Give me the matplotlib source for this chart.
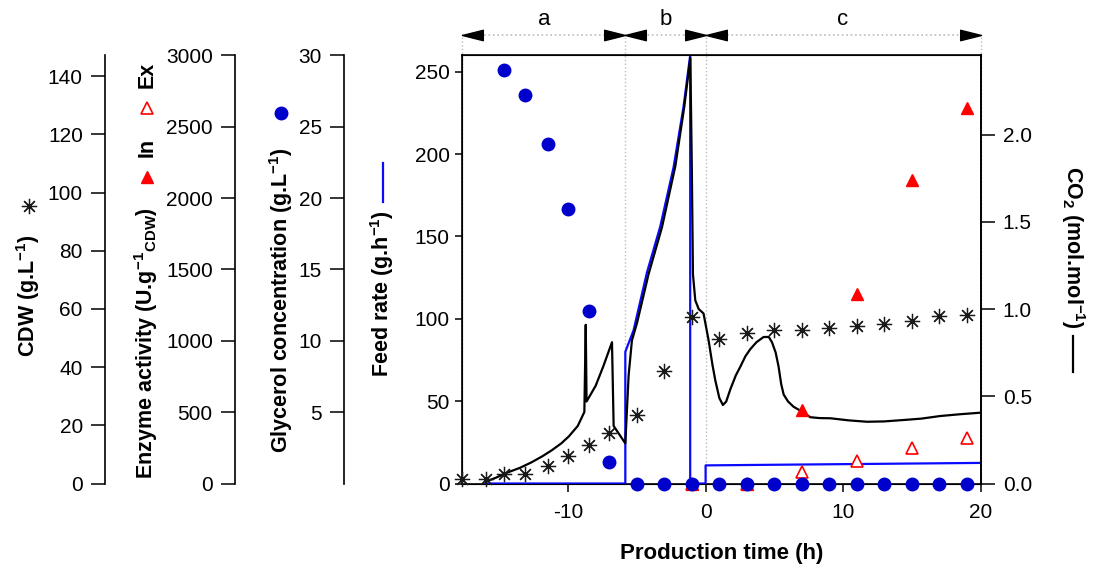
import numpy as np
import matplotlib.pyplot as plt
from matplotlib.path import Path

plt.rcParams['font.family'] = ['Liberation Sans', 'DejaVu Sans']
plt.rcParams['mathtext.default'] = 'regular'
plt.rcParams['axes.unicode_minus'] = False
plt.rcParams['font.size'] = 15

# glycerol (g/L)
t_gly = [-14.67, -13.17, -11.5, -10.0, -8.5, -7.0, -5, -3, -1, 1, 3, 5, 7, 9, 11, 13, 15, 17, 19]
gly = [29.0, 27.2, 23.8, 19.2, 12.1, 1.5, 0, 0, 0, 0, 0, 0, 0, 0, 0, 0, 0, 0, 0]

# cell dry weight (g/L)
t_cdw = [-17.7, -16.0, -14.66, -13.15, -11.5, -10.0, -8.5, -7.0, -5.0, -3.0, -1.0, 1, 3, 5, 7, 9, 11, 13, 15, 17, 19]
cdw = [1.4, 1.4, 3.1, 3.3, 6.0, 9.5, 13.2, 17.4, 23.7, 38.6, 57.1, 49.8, 51.9, 52.7, 52.7, 53.3, 54.3, 54.9, 55.9, 57.5, 58.0]

# enzyme activity (U/g CDW)
t_enz = [-1, 3, 7, 11, 15, 19]
enz_in = [0, 0, 513, 1330, 2128, 2628]
enz_ex = [0, 0, 82, 156, 250, 320]

# feed rate (g/h)
t_feed = [-16.0, -5.84, -5.84, -5.24, -4.27, -3.3, -2.33, -1.6, -1.12, -1.12, 0.0, 0.0, 20.0]
feed = [0, 0, 80, 93, 128, 156, 192, 229, 260, 0, 0, 11, 12.5]

# CO2 (mol/mol)
t_co2 = [-16.0, -15.2, -14.45, -13.5, -12.7, -11.9, -11.2, -10.5, -9.95, -9.3, -8.82, -8.72, -8.66,
         -8.0, -7.45, -6.81, -6.69, -5.84,
         -5.6, -5.36, -4.99, -4.15, -3.17, -2.2, -1.55, -1.11, -1.0, -0.92, -0.75, -0.5, -0.15,
         0.22, 0.5, 0.71, 1.0, 1.26, 1.5, 1.8, 2.2, 2.53, 2.9, 3.25, 3.7, 4.22, 4.6, 4.83, 5.1, 5.31,
         5.5, 5.68, 6.0, 6.4, 7.06, 7.62, 8.3, 9.08, 10.4, 11.75, 13.0, 14.4, 15.7, 17.08, 18.5, 20.0]
co2 = [0.01, 0.035, 0.062, 0.09, 0.12, 0.155, 0.19, 0.23, 0.27, 0.33, 0.41, 0.91, 0.47,
       0.56, 0.67, 0.81, 0.33, 0.23,
       0.62, 0.82, 0.92, 1.20, 1.47, 1.82, 2.16, 2.44, 1.8, 1.20, 1.05, 1.0, 0.975,
       0.82, 0.68, 0.59, 0.49, 0.45, 0.47, 0.54, 0.62, 0.67, 0.73, 0.77, 0.81, 0.84, 0.84, 0.81, 0.75, 0.67,
       0.57, 0.51, 0.47, 0.44, 0.41, 0.38, 0.375, 0.374, 0.362, 0.354, 0.356, 0.364, 0.372, 0.387, 0.397, 0.406]

phase_edges = [-17.7, -5.84, 0.0, 20.0]
phase_labels = ['a', 'b', 'c']

W, H = 1096, 569
def fx(px):
    return px / W
def fy(py):
    return 1 - py / H

fig = plt.figure(figsize=(10.96, 5.69), dpi=100)
ax = fig.add_axes([fx(462.3), fy(483.5), 518.2 / W, 428.2 / H])

blue_dot = '#0000cc'
blue_line = '#0a0aff'
red = '#ff0000'
star = (8, 2, 0)
star_kw = dict(ls='none', marker=star, ms=11, mec='#1a1a1a', mew=0.9)

# feed rate
ax.plot(t_feed, feed, color=blue_line, lw=1.6, zorder=3)
ax.set_xlim(-17.7, 20)
ax.set_ylim(0, 260)
ax.set_xticks([-10, 0, 10, 20])
ax.set_yticks([0, 50, 100, 150, 200, 250])
ax.tick_params(axis='x', length=6, width=1.1, pad=8)
ax.tick_params(axis='y', length=5, width=1.1, pad=4)
for s in ax.spines.values():
    s.set_linewidth(1.2)
ax.set_xlabel('Production time (h)', fontweight='bold', fontsize=16, labelpad=15)

# phase markers
top = (483.5 - 35) / 428.2
tr = ax.get_xaxis_transform()
for e in phase_edges:
    ax.plot([e, e], [0, top], transform=tr, color='#bbbbbb', ls=':', lw=1, clip_on=False, zorder=0)
ax.plot([phase_edges[0], phase_edges[-1]], [top, top], transform=tr, color='#bbbbbb', ls=':', lw=1.2, clip_on=False)
head_r = Path([(0, 0), (-2, 0.5), (-2, -0.5), (0, 0)], [1, 2, 2, 79])
head_l = Path([(0, 0), (2, 0.5), (2, -0.5), (0, 0)], [1, 2, 2, 79])
for i, lab in enumerate(phase_labels):
    a, b = phase_edges[i], phase_edges[i + 1]
    ax.plot([a], [top], transform=tr, marker=head_l, ms=30, color='black', clip_on=False)
    ax.plot([b], [top], transform=tr, marker=head_r, ms=30, color='black', clip_on=False)
    ax.text((a + b) / 2, top + 0.012, lab, transform=tr, ha='center', va='bottom', fontsize=16)

# CO2
ax_co2 = ax.twinx()
ax_co2.plot(t_co2, co2, color='black', lw=1.6, zorder=2)
ax_co2.set_ylim(0, 2.455)
ax_co2.set_yticks([0, 0.5, 1.0, 1.5, 2.0])
ax_co2.set_yticklabels(['0.0', '0.5', '1.0', '1.5', '2.0'])
ax_co2.tick_params(axis='y', length=10, width=1.1, pad=6)
ax_co2.spines['right'].set_linewidth(1.2)


def side_axis(pos, ylim, ticks):
    a2 = ax.twinx()
    a2.yaxis.tick_left()
    for k in ['top', 'right', 'bottom']:
        a2.spines[k].set_visible(False)
    a2.spines['left'].set_position(('axes', pos))
    a2.spines['left'].set_linewidth(1.2)
    a2.set_ylim(*ylim)
    a2.set_yticks(ticks)
    a2.tick_params(axis='y', length=10, width=1.1, pad=6)
    return a2

ax_cdw = side_axis((105 - 462.3) / 518.2, (0, 147.2), range(0, 141, 20))
ax_enz = side_axis((235 - 462.3) / 518.2, (0, 3000), range(0, 3001, 500))
ax_gly = side_axis((344 - 462.3) / 518.2, (0, 30), range(5, 31, 5))

ax_cdw.plot(t_cdw, cdw, clip_on=False, zorder=4, **star_kw)
ax_gly.plot(t_gly, gly, ls='none', marker='o', ms=9, color=blue_dot, clip_on=False, zorder=4)
ax_enz.plot(t_enz, enz_in, ls='none', marker='^', ms=8.5, color=red, clip_on=False, zorder=5)
ax_enz.plot(t_enz, enz_ex, ls='none', marker='^', ms=8.5, mfc='white', mec=red, mew=1.2, clip_on=False, zorder=6)

# axis titles with symbol keys
kw = dict(rotation=90, ha='center', va='center', fontweight='bold', fontsize=15.5)
fig.text(fx(28), fy(296), 'CDW (g.L$^{-1}$)', **kw)
fig.lines.append(plt.Line2D([fx(29)], [fy(206)], transform=fig.transFigure, **star_kw))
fig.text(fx(146), fy(343), 'Enzyme activity (U.g$^{-1}$$_{CDW}$)', **kw)
fig.lines.append(plt.Line2D([fx(147)], [fy(177)], ls='none', marker='^', ms=9, color=red, transform=fig.transFigure))
fig.text(fx(147), fy(147), 'In', **kw)
fig.lines.append(plt.Line2D([fx(147)], [fy(108)], ls='none', marker='^', ms=9, mfc='white', mec=red, mew=1.2, transform=fig.transFigure))
fig.text(fx(147), fy(75), 'Ex', **kw)
fig.text(fx(281), fy(300), 'Glycerol concentration (g.L$^{-1}$)', **kw)
fig.lines.append(plt.Line2D([fx(281)], [fy(113)], ls='none', marker='o', ms=9, color=blue_dot, transform=fig.transFigure))
fig.text(fx(382), fy(294), 'Feed rate (g.h$^{-1}$)', **kw)
fig.lines.append(plt.Line2D([fx(383), fx(383)], [fy(163), fy(202)], color=blue_line, lw=1.6, transform=fig.transFigure))
fig.text(fx(1073), fy(247), 'CO$_2$ (mol.mol$^{-1}$)', rotation=270, ha='center', va='center', fontweight='bold', fontsize=15.5)
fig.lines.append(plt.Line2D([fx(1073), fx(1073)], [fy(336), fy(372)], color='black', lw=1.6, transform=fig.transFigure))

fig.savefig('out.png', dpi=100)
